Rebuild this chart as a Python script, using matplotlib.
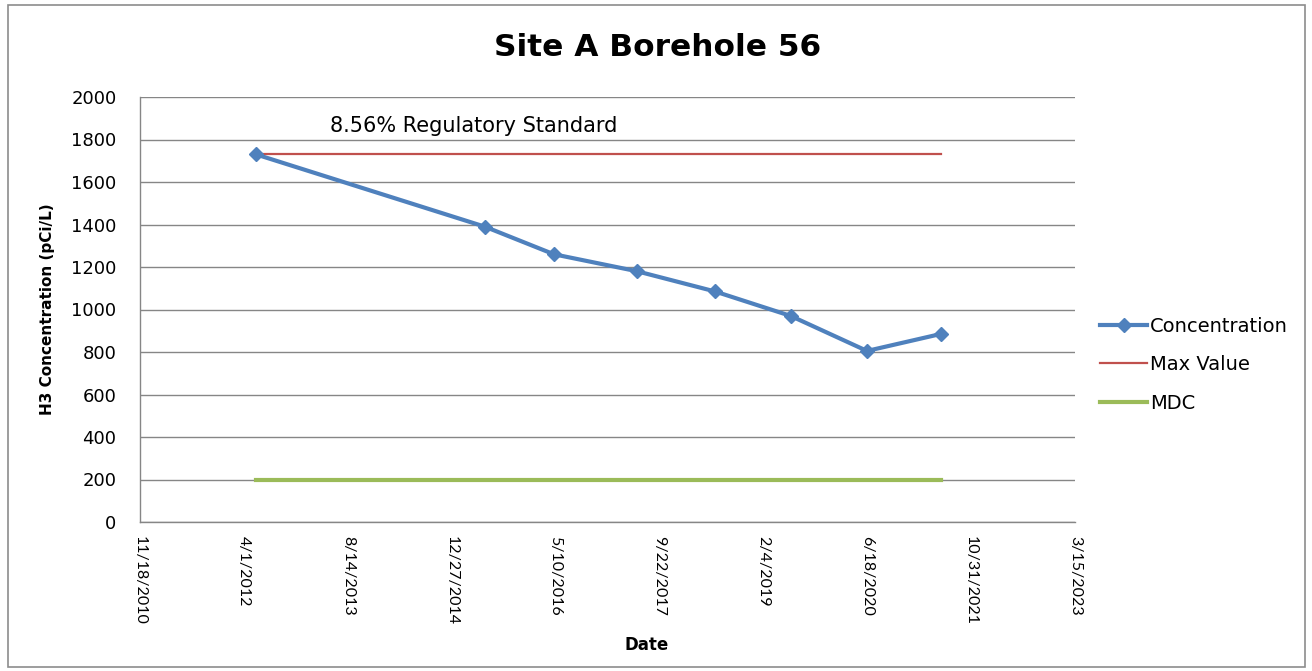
import matplotlib
matplotlib.use("Agg")
import matplotlib.pyplot as plt
from matplotlib.patches import Rectangle
import datetime as dt

plt.rcParams['font.family'] = ['DejaVu Sans']

# ---- data ----
sample_dates = ["2012-05-29", "2015-06-04", "2016-05-02", "2017-06-06",
                "2018-06-16", "2019-06-15", "2020-06-17", "2021-06-08"]
concentration = [1730, 1390, 1260, 1180, 1085, 970, 805, 885]
max_value = [1730] * len(sample_dates)
mdc = [200] * len(sample_dates)
tick_labels = ["11/18/2010", "4/1/2012", "8/14/2013", "12/27/2014", "5/10/2016",
               "9/22/2017", "2/4/2019", "6/18/2020", "10/31/2021", "3/15/2023"]
y_ticks = [0, 200, 400, 600, 800, 1000, 1200, 1400, 1600, 1800, 2000]

dates = [dt.datetime.strptime(d, "%Y-%m-%d") for d in sample_dates]
tick_dates = [dt.datetime.strptime(t, "%m/%d/%Y") for t in tick_labels]

fig = plt.figure(figsize=(13.12, 6.71), dpi=100)
ax = fig.add_axes([140/1312, 1 - 522/671, 935/1312, 425/671])

# outer border
fig.patches.append(Rectangle((8/1312, 4/671), 1297/1312, 662/671, transform=fig.transFigure,
                             fill=False, edgecolor='#8c8c8c', linewidth=1.2))

ax.plot(dates, concentration, color='#4F81BD', linewidth=3, marker='D', markersize=7,
        label='Concentration', zorder=4)
ax.plot(dates, max_value, color='#C0504D', linewidth=1.6, label='Max Value', zorder=3)
ax.plot(dates, mdc, color='#9BBB59', linewidth=3, label='MDC', zorder=3)

ax.set_xlim(tick_dates[0], tick_dates[-1])
ax.set_ylim(0, 2000)
ax.set_xticks(tick_dates)
ax.set_xticklabels(tick_labels, rotation=270, fontsize=11.5, va='top', ha='center',
                   family='Lato')
ax.set_yticks(y_ticks)
ax.tick_params(axis='y', labelsize=13, length=0, pad=17)
ax.tick_params(axis='x', length=0, pad=10)

ax.grid(axis='y', color='#868686', linewidth=1)
ax.set_axisbelow(True)
for s in ['top', 'right']:
    ax.spines[s].set_visible(False)
for s in ['left', 'bottom']:
    ax.spines[s].set_color('#868686')
    ax.spines[s].set_linewidth(1)

fig.text(658/1312, 1 - 47/671, "Site A Borehole 56", fontsize=22.5, fontweight='bold',
         ha='center', va='center')
ax.set_ylabel("H3 Concentration (pCi/L)", fontsize=11, fontweight='bold')
ax.yaxis.set_label_coords((55 - 140) / 935, 0.5)
ax.set_xlabel("Date", fontsize=12, fontweight='bold')
ax.xaxis.set_label_coords((647 - 140) / 935, (522 - 636) / 425)

ax.text(dt.datetime(2013, 5, 20), 1863, "8.56% Regulatory Standard", fontsize=15,
        va='center', ha='left')

ax.legend(loc='center left', bbox_to_anchor=(1.0, 0.37), frameon=False, fontsize=14,
          handlelength=2.4, handletextpad=0.15, labelspacing=1.0, borderaxespad=0.9)

fig.savefig("out.png", dpi=100)
